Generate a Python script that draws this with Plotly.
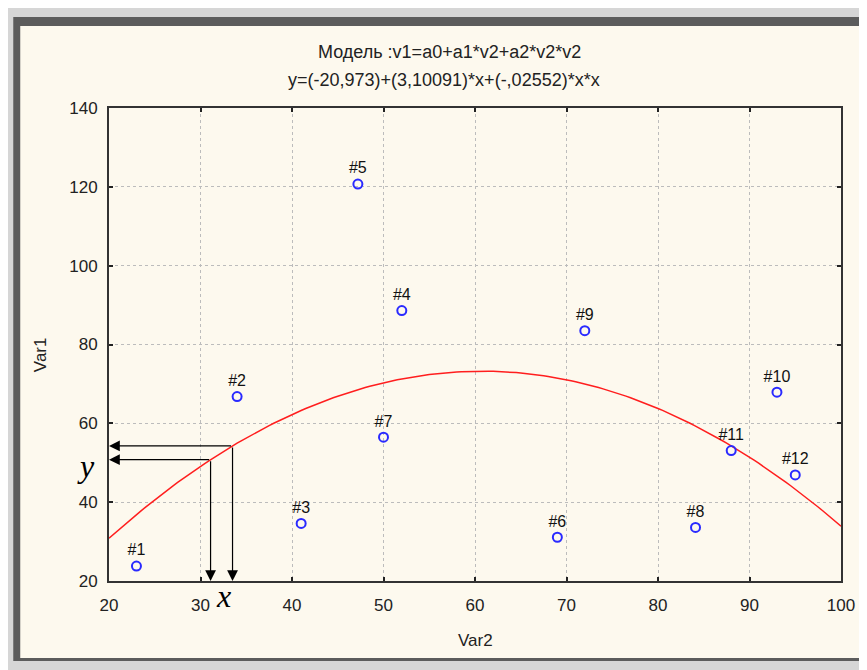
import numpy as np
import plotly.graph_objects as go

# ---- data ----
case_labels = ["#1", "#2", "#3", "#4", "#5", "#6", "#7", "#8", "#9", "#10", "#11", "#12"]
var2 = [23.0, 34.0, 41.0, 52.0, 47.2, 69.0, 50.0, 84.1, 72.0, 93.0, 88.0, 95.0]
var1 = [23.8, 66.8, 34.6, 88.6, 120.7, 31.1, 56.5, 33.6, 83.5, 67.9, 53.1, 46.9]

# model coefficients printed in the title: y = a0 + a1*x + a2*x*x
coef = [-20.973, 3.10091, -0.02552]
x_range = [20, 100]
y_range = [20, 140]
x_ticks = [20, 30, 40, 50, 60, 70, 80, 90, 100]
y_ticks = [20, 40, 60, 80, 100, 120, 140]

# x positions of the two read-off arrows
arrow_x = [31.1, 33.5]

title1 = "Модель :v1=a0+a1*v2+a2*v2*v2"
title2 = "y=(-20,973)+(3,10091)*x+(-,02552)*x*x"


def model(x):
    x = np.asarray(x, dtype=float)
    return coef[0] + coef[1] * x + coef[2] * x * x


OFF = 8  # page body margin
W, H = 867 - OFF, 670 - OFF
L, T = 109 - OFF, 108 - OFF
R = W - (843 - OFF)
B = H - (581 - OFF)
pw, ph = W - L - R, H - T - B


def px(xp):
    return (xp - OFF - L) / pw


def py(yp):
    return (H - B - (yp - OFF)) / ph


font = "Liberation Sans, Arial, sans-serif"
fig = go.Figure()

xc = np.linspace(x_range[0], x_range[1], 161)
fig.add_trace(go.Scatter(x=xc, y=model(xc), mode="lines",
                         line=dict(color="#ff1e1e", width=1.5),
                         hoverinfo="skip", showlegend=False))

fig.add_trace(go.Scatter(x=var2, y=var1, mode="markers+text", text=case_labels,
                         textposition="top center",
                         textfont=dict(family=font, size=16, color="#111111"),
                         marker=dict(symbol="circle-open", size=9, color="#2a2aff",
                                     line=dict(width=2, color="#2a2aff")),
                         showlegend=False))

annotations = []
for xv in arrow_x:
    yv = float(model(xv))
    common = dict(xref="x", yref="y", axref="x", ayref="y", text="", showarrow=True,
                  arrowhead=2, arrowsize=1.8, arrowwidth=1.2, arrowcolor="#000000",
                  standoff=0, startstandoff=0)
    annotations.append(dict(x=x_range[0], y=yv, ax=xv, ay=yv, **common))
    annotations.append(dict(x=xv, y=y_range[0], ax=xv, ay=yv, **common))

tfont = dict(family=font, size=18, color="#222222")
annotations += [
    dict(xref="paper", yref="paper", x=px(450), y=py(52), text=title1, showarrow=False,
         font=tfont, xanchor="center", yanchor="middle"),
    dict(xref="paper", yref="paper", x=px(445), y=py(80), text=title2, showarrow=False,
         font=tfont, xanchor="center", yanchor="middle"),
    dict(xref="paper", yref="paper", x=px(476), y=py(640), text="Var2", showarrow=False,
         font=dict(family=font, size=17, color="#222222"), xanchor="center", yanchor="middle"),
    dict(xref="paper", yref="paper", x=px(40), y=py(355), text="Var1", showarrow=False,
         textangle=-90, font=dict(family=font, size=17, color="#222222"),
         xanchor="center", yanchor="middle"),
    dict(xref="paper", yref="paper", x=px(86), y=py(466), text="<i>y</i>", showarrow=False,
         font=dict(family="Liberation Serif, Times New Roman, serif", size=32, color="#000000"),
         xanchor="center", yanchor="middle"),
    dict(xref="paper", yref="paper", x=px(224), y=py(596), text="<i>x</i>", showarrow=False,
         font=dict(family="Liberation Serif, Times New Roman, serif", size=32, color="#000000"),
         xanchor="center", yanchor="middle"),
]

shapes = [
    dict(type="rect", xref="paper", yref="paper", x0=px(13), x1=px(866), y0=py(17), y1=py(661),
         fillcolor="#5c5c5c", line=dict(width=0), layer="below"),
    dict(type="rect", xref="paper", yref="paper", x0=px(20), x1=px(864), y0=py(26), y1=py(658),
         fillcolor="#fdf9ee", line=dict(width=0), layer="below"),
]

axis_common = dict(showgrid=True, gridcolor="#bcbcbc", griddash="dot", gridwidth=1,
                   zeroline=False, showline=True, linecolor="#333333", linewidth=2,
                   mirror="ticks", ticks="inside", ticklen=4, tickwidth=2, tickcolor="#222222",
                   tickfont=dict(family=font, size=17, color="#222222"))

fig.update_layout(
    width=W, height=H,
    margin=dict(l=L, r=R, t=T, b=B, pad=0),
    paper_bgcolor="#d6d6d6", plot_bgcolor="#ffffff",
    xaxis=dict(range=x_range, tickvals=x_ticks, ticklabelstandoff=8, **axis_common),
    yaxis=dict(range=y_range, tickvals=y_ticks, ticklabelstandoff=6, **axis_common),
    annotations=annotations, shapes=shapes, showlegend=False,
)

fig.write_html("out.html")
